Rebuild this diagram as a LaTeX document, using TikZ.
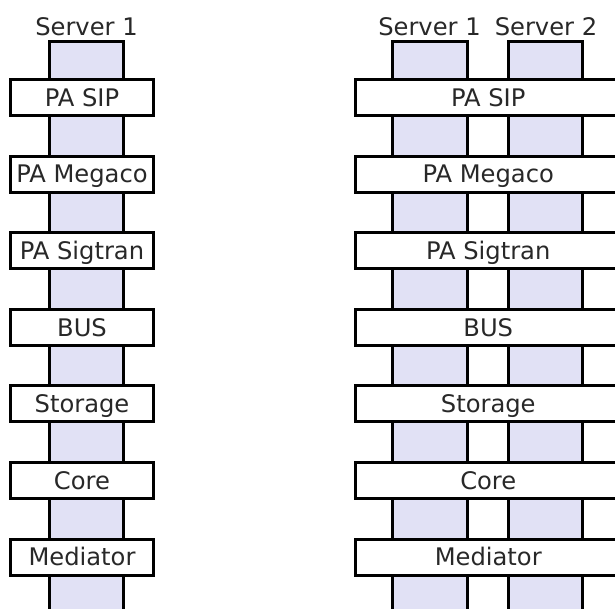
\documentclass[tikz,border=0pt]{standalone}
\usepackage{fontspec}
\setmainfont{DejaVu Sans}
\definecolor{barfill}{RGB}{225,225,245}
\definecolor{txt}{RGB}{40,40,40}
\begin{document}
\begin{tikzpicture}[x=1pt,y=-1pt,
  bar/.style={draw=black, line width=3pt, fill=barfill, rectangle, inner sep=0pt, minimum height=578.5pt},
  layer/.style={draw=black, line width=3pt, fill=white, rectangle, inner sep=0pt, minimum height=36pt,
    font=\fontsize{24.2}{27}\selectfont, text=txt, text height=17.6pt, text depth=0pt},
  lbl/.style={font=\fontsize{24.2}{27}\selectfont, text=txt, inner sep=0pt, anchor=base}]
\useasboundingbox (0,0) rectangle (615,608);
\clip (0,0) rectangle (615,608);
\fill[white] (0,0) rectangle (615,608);
% bars
\node[bar, minimum width=74pt] (L1) at (86.5,330.75) {};
\node[bar, minimum width=75pt] (R1) at (430,330.75) {};
\node[bar, minimum width=74pt] (R2) at (545.5,330.75) {};
% server labels
\node[lbl] (tL1) at (86.5,35) {Server 1};
\node[lbl] (tR1) at (429.5,35) {Server 1};
\node[lbl] (tR2) at (546,35) {Server 2};
% layers
\foreach \i/\t in {0/PA SIP,1/PA Megaco,2/PA Sigtran,3/BUS,4/Storage,5/Core,6/Mediator}{
  \node[layer, minimum width=143pt] (l\i) at (82,97.5+76.6*\i) {\t};
  \node[layer, minimum width=265.5pt] (r\i) at (488.25,97.5+76.6*\i) {\t};
}
\end{tikzpicture}
\end{document}
